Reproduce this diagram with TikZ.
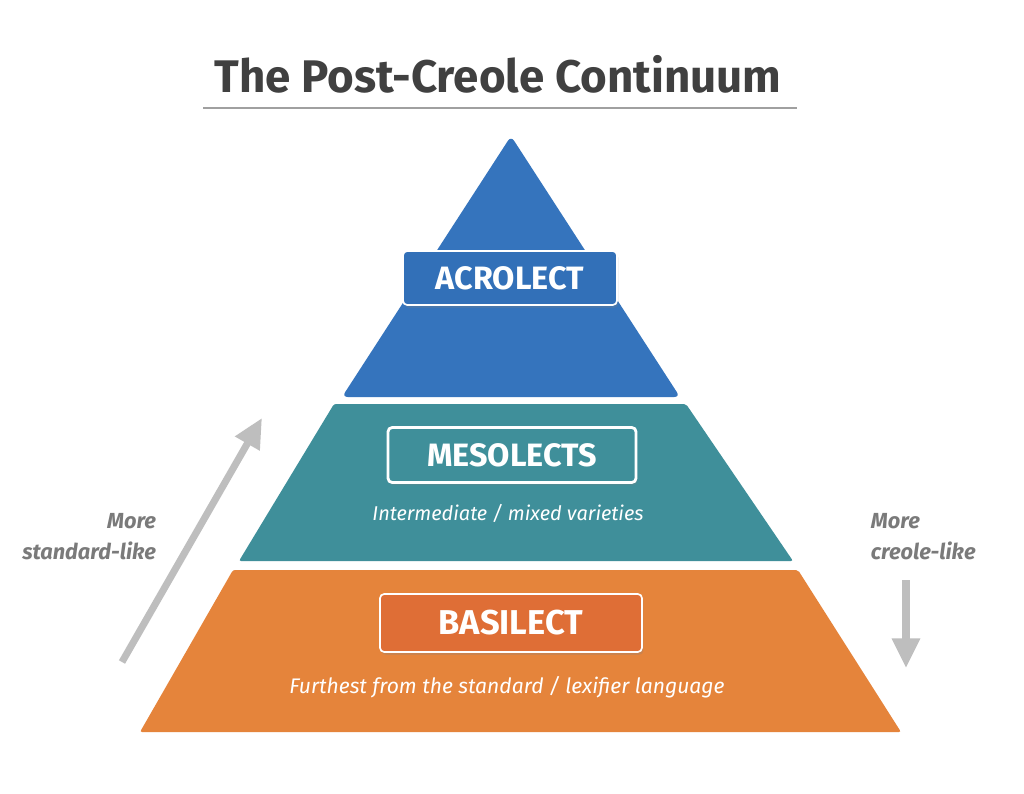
\documentclass[tikz,border=0pt]{standalone}
\usepackage{fontspec}
\setmainfont{Fira Sans}
\usetikzlibrary{arrows.meta, shadows}

\definecolor{acroblue}{HTML}{3574BD}
\definecolor{acrobox}{HTML}{3270B8}
\definecolor{mesoteal}{HTML}{3F8F9A}
\definecolor{basiorange}{HTML}{E5843B}
\definecolor{basibox}{HTML}{DF6E36}
\definecolor{titlegrey}{HTML}{404040}
\definecolor{rulegrey}{HTML}{A0A0A0}
\definecolor{sidegrey}{HTML}{7A7A7A}
\definecolor{arrowgrey}{HTML}{BEBEBE}

\begin{document}
\begin{tikzpicture}[x=0.025cm, y=-0.025cm,
    band/.style={rounded corners=1.5pt},
    lectbox/.style={draw=white, line width=1.2pt, rounded corners=3pt, inner sep=0pt,
      text=white, font=\fontsize{23}{26}\selectfont\bfseries,
      drop shadow={opacity=0.25, shadow xshift=1pt, shadow yshift=-2pt}},
    note/.style={text=white, font=\fontsize{15}{18}\selectfont\itshape},
    side/.style={text=sidegrey, font=\fontsize{15.5}{22}\selectfont\bfseries\itshape},
    trend/.style={draw=arrowgrey, line width=5pt, -{Triangle[length=21pt, width=19pt]}}]
  \useasboundingbox[fill=white] (0,0) rectangle (1024,794);

  % title
  \node[text=titlegrey, font=\fontsize{32.5}{40}\selectfont\bfseries] (title) at (498,74) {The Post-Creole Continuum};
  \draw[rulegrey, line width=1.5pt] (203,108) -- (797,108);

  % pyramid bands
  \fill[acroblue, rounded corners=4pt] (342,397) -- (511,136) -- (680,397) -- cycle;
  \fill[mesoteal, band] (334,404) -- (686,404) -- (793,561) -- (239,561) -- cycle;
  \fill[basiorange, band] (233,570) -- (798,570) -- (901,732) -- (140,732) -- cycle;

  % labels
  \node[lectbox, fill=acrobox, minimum width=214*0.025cm, minimum height=54*0.025cm] (acro) at (510,278) {ACROLECT};
  \node[lectbox, fill=mesoteal, line width=2pt, minimum width=248*0.025cm, minimum height=55*0.025cm] (meso) at (512,455) {MESOLECTS};
  \node[note, font=\fontsize{14.2}{18}\selectfont\itshape] (mesonote) at (508,513) {Intermediate / mixed varieties};
  \node[lectbox, fill=basibox, font=\fontsize{24.5}{28}\selectfont\bfseries, minimum width=262*0.025cm, minimum height=58*0.025cm] (basi) at (511,623) {BASILECT};
  \node[note] (basinote) at (507,687) {Furthest from the standard / lexifier language};

  % side arrows
  \coordinate (upfrom) at (122,662);
  \coordinate (upto) at (262,418);
  \coordinate (downfrom) at (906,580);
  \coordinate (downto) at (906,668);
  \draw[trend] (upfrom) -- (upto);
  \draw[trend] (downfrom) -- (downto);
  \node[side, align=right, anchor=east] (standard) at (161,537) {More\\standard-like};
  \node[side, align=left, anchor=west] (creole) at (866,537) {More\\creole-like};
\end{tikzpicture}
\end{document}
